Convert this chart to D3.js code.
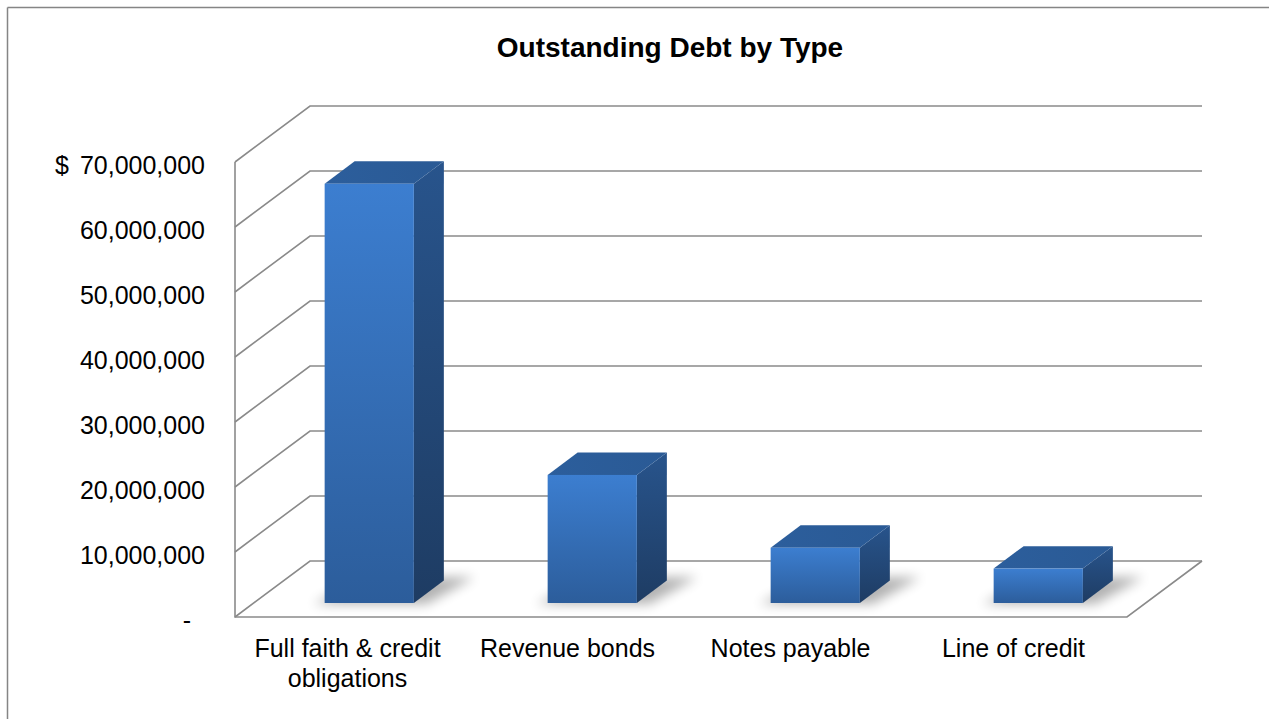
<!DOCTYPE html>
<html><head><meta charset="utf-8">
<script src="https://cdn.jsdelivr.net/npm/d3@7"></script>
<style>
html,body{margin:0;padding:0;background:#fff;}
svg{display:block;}
text{font-family:"Liberation Sans",Arial,sans-serif;fill:#000;}
</style></head>
<body>
<svg id="chart" width="1269" height="719"></svg>
<script>
const categories = ["Full faith & credit obligations", "Revenue bonds", "Notes payable", "Line of credit"];
const categoryLines = [["Full faith & credit", "obligations"], ["Revenue bonds"], ["Notes payable"], ["Line of credit"]];
const values = [64500000, 19700000, 8500000, 5300000];
const tickValues = [0, 10000000, 20000000, 30000000, 40000000, 50000000, 60000000, 70000000];
const tickLabels = ["-", "10,000,000", "20,000,000", "30,000,000", "40,000,000", "50,000,000", "60,000,000", "70,000,000"];
const title = "Outstanding Debt by Type";

const svg = d3.select("#chart");
const W = 1269, H = 719;

// frame
svg.append("line").attr("x1", 7.5).attr("y1", 7.5).attr("x2", W).attr("y2", 7.5).attr("stroke", "#858585").attr("stroke-width", 1.5);
svg.append("line").attr("x1", 7.5).attr("y1", 7.5).attr("x2", 7.5).attr("y2", H).attr("stroke", "#858585").attr("stroke-width", 1.5);

const x = d3.scaleBand().domain(categories).range([235, 1127]).padding(0);
const y = d3.scaleLinear().domain([0, 70000000]).range([617, 162]);
const DX = 75, DY = -56;
const P = (xx, v, z) => [xx + z * DX, y(v) + z * DY];
const line = d3.line();

const defs = svg.append("defs");
const gFront = defs.append("linearGradient").attr("id", "gFront").attr("x1", 0).attr("y1", 0).attr("x2", 0).attr("y2", 1);
gFront.append("stop").attr("offset", "0%").attr("stop-color", "#3c7ed0");
gFront.append("stop").attr("offset", "100%").attr("stop-color", "#2c5d9b");
const gSide = defs.append("linearGradient").attr("id", "gSide").attr("x1", 0).attr("y1", 0).attr("x2", 0).attr("y2", 1);
gSide.append("stop").attr("offset", "0%").attr("stop-color", "#28548c");
gSide.append("stop").attr("offset", "100%").attr("stop-color", "#1e3c63");
const gTop = defs.append("linearGradient").attr("id", "gTop").attr("x1", 0).attr("y1", 0).attr("x2", 1).attr("y2", 0);
gTop.append("stop").attr("offset", "0%").attr("stop-color", "#2c5e9c");
gTop.append("stop").attr("offset", "100%").attr("stop-color", "#2a5a95");
const blur = defs.append("filter").attr("id", "blur").attr("x", "-50%").attr("y", "-50%").attr("width", "200%").attr("height", "200%");
blur.append("feGaussianBlur").attr("stdDeviation", 6);

// walls / grid
const grid = svg.append("g").attr("fill", "none").attr("stroke", "#8a8a8a").attr("stroke-width", 1.6);
const x0 = x.range()[0], x1 = x.range()[1];
tickValues.forEach(v => {
  grid.append("path").attr("d", line([P(x0, v, 0), P(x0, v, 1), P(x1, v, 1)]));
});
grid.append("path").attr("d", line([P(x0, 70000000, 0), P(x0, 0, 0), P(x1, 0, 0), P(x1, 0, 1)]));

// bars
const z1 = 0.25, z2 = 0.65;
const bars = svg.append("g");
categories.forEach((c, i) => {
  const bw = x.bandwidth() * 0.4;
  const cx = x(c) + x.bandwidth() / 2 + 4;
  const l = cx - bw / 2, r = cx + bw / 2;
  const v = values[i];
  // shadow
  bars.append("path")
    .attr("d", line([P(l - 10, 0, z1 - 0.02), P(r + 14, 0, z1 - 0.02), P(r + 26, 0, z2 + 0.06), P(l + 10, 0, z2 + 0.06)]) + "Z")
    .attr("fill", "#000").attr("opacity", 0.3).attr("filter", "url(#blur)");
  // side
  bars.append("path")
    .attr("d", line([P(r, 0, z1), P(r, 0, z2), P(r, v, z2), P(r, v, z1)]) + "Z")
    .attr("fill", "url(#gSide)");
  // top
  bars.append("path")
    .attr("d", line([P(l, v, z1), P(r, v, z1), P(r, v, z2), P(l, v, z2)]) + "Z")
    .attr("fill", "url(#gTop)");
  // front
  const a = P(l, v, z1), b = P(r, 0, z1);
  bars.append("rect").attr("x", a[0]).attr("y", a[1]).attr("width", b[0] - a[0]).attr("height", b[1] - a[1])
    .attr("fill", "url(#gFront)");
});

// y labels
const yl = svg.append("g").attr("font-size", 25);
tickValues.forEach((v, i) => {
  const t = yl.append("text").attr("text-anchor", "end").attr("y", y(v) + 3).attr("dy", "0.35em").text(tickLabels[i]);
  t.attr("x", v === 0 ? 191 : 205);
});
yl.append("text").attr("x", 55).attr("y", y(70000000) + 3).attr("dy", "0.35em").text("$");

// x labels
const xl = svg.append("g").attr("font-size", 25).attr("text-anchor", "middle");
categories.forEach((c, i) => {
  const cx = x(c) + x.bandwidth() / 2 + (i === 0 ? 1 : -2);
  const t = xl.append("text").attr("x", cx).attr("y", 657);
  categoryLines[i].forEach((s, k) => {
    t.append("tspan").attr("x", cx).attr("dy", k === 0 ? 0 : 30).text(s);
  });
});

// title
svg.append("text").attr("x", 670).attr("y", 57).attr("text-anchor", "middle")
  .attr("font-size", 28).attr("font-weight", "bold").text(title);
</script>
</body></html>
